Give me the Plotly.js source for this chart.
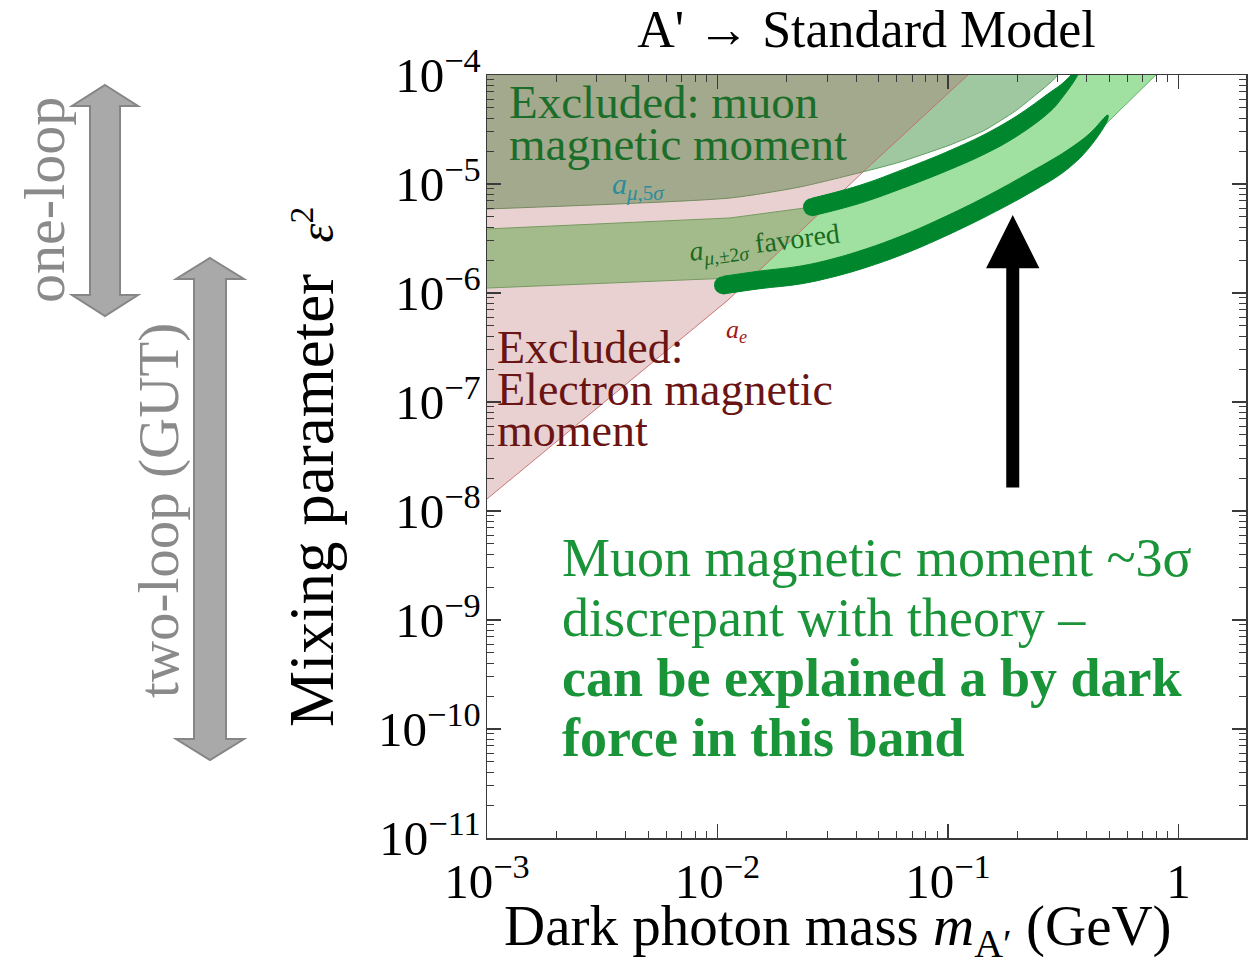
<!DOCTYPE html>
<html>
<head>
<meta charset="utf-8">
<script src="https://cdn.plot.ly/plotly-3.0.1.min.js"></script>
<style>
  html, body { margin: 0; padding: 0; background: #fff; }
  #chart { width: 1258px; height: 966px; }
</style>
</head>
<body>
<div id="chart"></div>
<script>
// ---- Dark photon (A') parameter space: mass in GeV, mixing parameter eps^2 ----

// Electron g-2 (a_e) exclusion boundary
const aeMass = [0.001, 0.0111, 0.0428, 0.122];
const aeEps2 = [1.29e-8, 8.6e-7, 1.29e-5, 1.0e-4];

// Muon g-2 5-sigma exclusion boundary (excluded above)
const amu5Mass = [0.001, 0.01133, 0.0228, 0.0445, 0.0619, 0.0861, 0.102, 0.142, 0.168, 0.199, 0.234, 0.277, 0.312];
const amu5Eps2 = [5.90e-6, 7.44e-6, 9.39e-6, 1.32e-5, 1.59e-5, 2.01e-5, 2.28e-5, 3.06e-5, 3.78e-5, 4.77e-5, 6.28e-5, 8.45e-5, 1.11e-4];

// Muon g-2 +-2 sigma favoured band
const bandUpperMass = [0.001, 0.01133, 0.0257, 0.0340, 0.0445, 0.0619, 0.0861, 0.142, 0.199, 0.277, 0.312, 0.389];
const bandUpperEps2 = [3.87e-6, 4.88e-6, 6.15e-6, 7.13e-6, 8.44e-6, 1.09e-5, 1.43e-5, 2.28e-5, 3.40e-5, 5.65e-5, 7.13e-5, 1.11e-4];
const bandLowerMass = [0.001, 0.01133, 0.0228, 0.0445, 0.0861, 0.142, 0.234, 0.328, 0.5045, 0.839];
const bandLowerEps2 = [1.11e-6, 1.37e-6, 1.43e-6, 1.88e-6, 3.06e-6, 5.20e-6, 9.00e-6, 1.46e-5, 3.87e-5, 1.11e-4];

// Highlighted edges of the favoured band (brush strokes)
const strokeUpperMass = [0.0257, 0.0340, 0.0445, 0.0619, 0.0861, 0.102, 0.142, 0.199, 0.277, 0.312, 0.366];
const strokeUpperEps2 = [6.15e-6, 7.13e-6, 8.44e-6, 1.09e-5, 1.43e-5, 1.66e-5, 2.28e-5, 3.40e-5, 5.65e-5, 7.13e-5, 1.07e-4];
const strokeLowerMass = [0.01057, 0.01529, 0.0228, 0.0317, 0.0445, 0.0619, 0.0861, 0.142, 0.234, 0.328, 0.413, 0.494];
const strokeLowerEps2 = [1.18e-6, 1.32e-6, 1.46e-6, 1.70e-6, 2.10e-6, 2.70e-6, 3.63e-6, 6.02e-6, 1.07e-5, 1.66e-5, 2.53e-5, 4.12e-5];

// Pointer arrow into the band
const arrowMass = 0.191;
const arrowTailEps2 = 1.59e-8;
const arrowTipEps2 = 5.2e-6;

// Axis ticks
const xTickVals = [0.001, 0.01, 0.1, 1];
const xTickText = ['10<sup>\u22123</sup>', '10<sup>\u22122</sup>', '10<sup>\u22121</sup>', '1'];
const yTickVals = [1e-11, 1e-10, 1e-9, 1e-8, 1e-7, 1e-6, 1e-5, 1e-4];
const yTickText = ['10<sup>\u221211</sup>', '10<sup>\u221210</sup>', '10<sup>\u22129</sup>', '10<sup>\u22128</sup>',
                   '10<sup>\u22127</sup>', '10<sup>\u22126</sup>', '10<sup>\u22125</sup>', '10<sup>\u22124</sup>'];

// ---- styling ----
const SERIF = "'Liberation Serif', 'Times New Roman', serif";
const STROKE = '#00872d';
// brush-stroke half thickness along each stroke, in decades of eps^2
const upperStrokeHalf = [0.081, 0.082, 0.083, 0.085, 0.086, 0.087, 0.090, 0.093, 0.088, 0.065, 0.020];
const lowerStrokeHalf = [0.081, 0.081, 0.082, 0.083, 0.085, 0.087, 0.089, 0.091, 0.094, 0.087, 0.062, 0.018];

const X_RANGE = [-3, 0.293];
const Y_RANGE = [-11, -4];
const LEFT_OUT = Math.pow(10, -3.2);
const TOP_OUT = Math.pow(10, -3.8);

// plot frame in page pixels, used to place the free text
const FX0 = 487, FX1 = 1246, FY0 = 75, FY1 = 838;
function at(px, py) {
  return { xref: 'paper', yref: 'paper', x: (px - FX0) / (FX1 - FX0), y: (FY1 - py) / (FY1 - FY0) };
}
function last(a) { return a[a.length - 1]; }

function strokeOutline(mass, eps2, half) {
  const up = eps2.map((v, i) => v * Math.pow(10, half[i]));
  const dn = eps2.map((v, i) => v * Math.pow(10, -half[i]));
  return { x: mass.concat(mass.slice().reverse()), y: up.concat(dn.slice().reverse()) };
}

const traces = [];

// muon g-2 5 sigma excluded region
traces.push({
  type: 'scatter', mode: 'lines', hoverinfo: 'skip',
  x: amu5Mass.concat([last(amu5Mass), LEFT_OUT, LEFT_OUT]),
  y: amu5Eps2.concat([TOP_OUT, TOP_OUT, amu5Eps2[0]]),
  fill: 'toself', fillcolor: '#9fc8a1',
  line: { color: '#5f9f62', width: 1, shape: 'spline', smoothing: 0.6 }
});

// +-2 sigma favoured band
traces.push({
  type: 'scatter', mode: 'lines', hoverinfo: 'skip',
  x: bandUpperMass.concat(bandLowerMass.slice().reverse()),
  y: bandUpperEps2.concat(bandLowerEps2.slice().reverse()),
  fill: 'toself', fillcolor: '#a0e0a0',
  line: { color: '#62b466', width: 1 }
});

// electron g-2 excluded region, translucent over the muon regions
traces.push({
  type: 'scatter', mode: 'lines', hoverinfo: 'skip',
  x: aeMass.concat([last(aeMass), LEFT_OUT, LEFT_OUT]),
  y: aeEps2.concat([TOP_OUT, TOP_OUT, aeEps2[0]]),
  fill: 'toself', fillcolor: 'rgba(175,85,85,0.27)',
  line: { color: 'rgba(200,105,105,0.9)', width: 1 }
});

// brush strokes on the band edges
[[strokeUpperMass, strokeUpperEps2, upperStrokeHalf], [strokeLowerMass, strokeLowerEps2, lowerStrokeHalf]].forEach(s => {
  const o = strokeOutline(s[0], s[1], s[2]);
  traces.push({
    type: 'scatter', mode: 'lines', hoverinfo: 'skip',
    x: o.x, y: o.y, fill: 'toself', fillcolor: STROKE,
    line: { color: STROKE, width: 1, shape: 'spline', smoothing: 1.1 }
  });
  traces.push({
    type: 'scatter', mode: 'markers', hoverinfo: 'skip',
    x: [s[0][0]], y: [s[1][0]],
    marker: { size: 18, color: STROKE, line: { width: 0 } }
  });
});

// minor ticks at 2..9 within each decade
const xMinor = [];
for (let k = -3; k <= 0; k++) for (let d = 2; d <= 9; d++) { const v = d * Math.pow(10, k); if (Math.log10(v) < X_RANGE[1]) xMinor.push(v); }
const yMinor = [];
for (let k = -11; k <= -5; k++) for (let d = 2; d <= 9; d++) yMinor.push(d * Math.pow(10, k));

const axisCommon = {
  type: 'log', showgrid: false, zeroline: false,
  showline: true, linecolor: '#3a3a3a', linewidth: 1.5, mirror: 'allticks',
  ticks: 'inside', ticklen: 14, tickwidth: 1.3, tickcolor: '#3a3a3a',
  tickmode: 'array', tickfont: { family: SERIF, size: 49, color: '#000' }
};

function txt(px, py, text, size, color, extra) {
  return Object.assign(at(px, py), {
    text: text, showarrow: false, xanchor: 'left', yanchor: 'middle',
    font: { family: SERIF, size: size, color: color }
  }, extra || {});
}

const annotations = [
  // muon exclusion label
  txt(507, 102, 'Excluded: muon', 47, '#1b6d2a'),
  txt(507, 144, 'magnetic moment', 47, '#1b6d2a'),
  txt(638, 186, '<i>a</i><sub><i>\u03bc</i>,5<i>\u03c3</i></sub>', 30, '#2b8d9b', { xanchor: 'center' }),
  txt(764, 245, '<i>a</i><sub><i>\u03bc</i>,\u00b12<i>\u03c3</i></sub> favored', 28, '#1a6a22', { xanchor: 'center', textangle: -7 }),
  txt(736, 331, '<i>a<sub>e</sub></i>', 26, '#a01818', { xanchor: 'center' }),
  // electron exclusion label
  txt(495, 347, 'Excluded:', 46, '#6a1414'),
  txt(495, 389, 'Electron magnetic', 46, '#6a1414'),
  txt(495, 431, 'moment', 46, '#6a1414'),
  // discrepancy note
  txt(560, 558, 'Muon magnetic moment ~3\u03c3', 54, '#1a9438'),
  txt(560, 618, 'discrepant with theory \u2013', 54, '#1a9438'),
  txt(560, 678, '<b>can be explained a by dark</b>', 54, '#1a9438'),
  txt(560, 738, '<b>force in this band</b>', 54, '#1a9438'),
  // loop-order ranges beside the axis
  txt(44, 200, 'one-loop', 58, '#8a8a8a', { xanchor: 'center', textangle: -90 }),
  txt(159, 511, 'two-loop (GUT)', 57, '#8a8a8a', { xanchor: 'center', textangle: -90 }),
  // axis titles
  txt(312, 467, 'Mixing parameter  <span style="font-size:48px"><i>\u03b5</i><sup>2</sup></span>', 63, '#000', { xanchor: 'center', textangle: -90 }),
  txt(838, 930, 'Dark photon mass <i>m</i><sub>A\u2032</sub> (GeV)', 57, '#000', { xanchor: 'center' }),
  // black pointer arrow
  {
    xref: 'x', yref: 'y', axref: 'x', ayref: 'y',
    x: Math.log10(arrowMass), y: Math.log10(arrowTipEps2),
    ax: Math.log10(arrowMass), ay: Math.log10(arrowTailEps2),
    text: '', showarrow: true, arrowhead: 2, arrowsize: 0.82, arrowwidth: 13,
    arrowcolor: '#000', standoff: 0
  }
];

// grey double-headed arrows marking the loop-order ranges
function dblArrow(cx, yTop, yBot, sw, hw, hl) {
  const pts = [[cx, yTop], [cx + hw, yTop + hl], [cx + sw, yTop + hl], [cx + sw, yBot - hl], [cx + hw, yBot - hl],
               [cx, yBot], [cx - hw, yBot - hl], [cx - sw, yBot - hl], [cx - sw, yTop + hl], [cx - hw, yTop + hl]];
  return 'M' + pts.map(p => { const q = at(p[0], p[1]); return q.x.toFixed(5) + ',' + q.y.toFixed(5); }).join('L') + 'Z';
}
const shapes = [
  { type: 'path', xref: 'paper', yref: 'paper', path: dblArrow(105, 85, 316, 15, 33, 21),
    fillcolor: '#a9a9a9', line: { color: '#868686', width: 2 } },
  { type: 'path', xref: 'paper', yref: 'paper', path: dblArrow(210, 258, 760, 16, 34, 21),
    fillcolor: '#a9a9a9', line: { color: '#868686', width: 2 } }
];

const layout = {
  width: 1258, height: 966,
  margin: { l: 487, r: 12, t: 75, b: 128, autoexpand: false },
  paper_bgcolor: '#ffffff', plot_bgcolor: '#ffffff',
  showlegend: false,
  font: { family: SERIF, color: '#000' },
  title: {
    text: "A' \u2192 Standard Model",
    font: { family: SERIF, size: 52, color: '#000' },
    xref: 'paper', x: 0.5, xanchor: 'center',
    yref: 'container', y: 1 - 29 / 966, yanchor: 'middle'
  },
  xaxis: Object.assign({}, axisCommon, {
    range: X_RANGE, tickvals: xTickVals, ticktext: xTickText,
    minor: { tickmode: 'array', tickvals: xMinor, ticks: 'inside', ticklen: 7, tickwidth: 1, tickcolor: '#3a3a3a' }
  }),
  yaxis: Object.assign({}, axisCommon, {
    range: Y_RANGE, tickvals: yTickVals, ticktext: yTickText, ticklabelstandoff: -5,
    minor: { tickmode: 'array', tickvals: yMinor, ticks: 'inside', ticklen: 7, tickwidth: 1, tickcolor: '#3a3a3a' }
  }),
  annotations: annotations,
  shapes: shapes
};

Plotly.newPlot('chart', traces, layout, { staticPlot: true, displayModeBar: false });
</script>
</body>
</html>
